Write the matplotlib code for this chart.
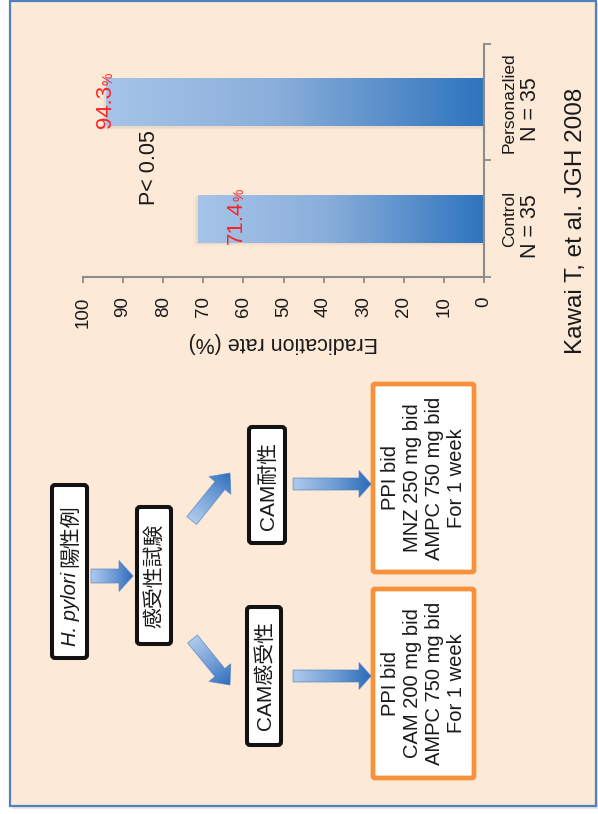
import numpy as np
import matplotlib
matplotlib.use("Agg")
import matplotlib.pyplot as plt
import matplotlib.transforms as mtransforms
from matplotlib.patches import Rectangle, FancyBboxPatch, Polygon
from matplotlib.colors import LinearSegmentedColormap

# ---------------- data ----------------
groups = ["Control", "Personazlied"]
group_n = ["N = 35", "N = 35"]
eradication = [71.4, 94.3]
rate_ticks = [0, 10, 20, 30, 40, 50, 60, 70, 80, 90, 100]
p_text = "P< 0.05"
rate_label = "Eradication rate (%)"
citation = "Kawai T, et al. JGH 2008"

start_latin = "H. pylori"
start_cjk = "陽性例"
test_label = "感受性試験"
resistant_label = "CAM耐性"
susceptible_label = "CAM感受性"
resistant_regimen = ["PPI bid", "MNZ 250 mg bid", "AMPC 750 mg bid", "For 1 week"]
susceptible_regimen = ["PPI bid", "CAM 200 mg bid", "AMPC 750 mg bid", "For 1 week"]

# ---------------- layout / style ----------------
W, H = 598, 814
value_label_x = [61.8, 94.5]      # where each percentage label sits along the rate axis
PEACH = "#FDE9D8"
FRAME = "#4F81BD"
RED = "#FF2323"
INK = "#1A1A1A"
SPINE = "#8C8C8C"
ORANGE = "#F7923A"

plt.rcParams["font.family"] = ["Liberation Sans", "Noto Sans CJK JP", "DejaVu Sans"]

fig = plt.figure(figsize=(W / 100, H / 100), dpi=100)
fig.patch.set_facecolor("white")

# full-figure canvas in pixel units (y downwards)
bg = fig.add_axes([0, 0, 1, 1])
bg.set_xlim(0, W)
bg.set_ylim(H, 0)
bg.axis("off")

bg.add_patch(Rectangle((11.5, 2.5), 586, 806, fc="#E6E6E6", ec="none", zorder=0))
bg.add_patch(Rectangle((9.5, 0.5), 586, 805, fc=PEACH, ec=FRAME, lw=1.6, zorder=1))

bar_cmap = LinearSegmentedColormap.from_list(
    "bar", [(0.0, "#A6C4E8"), (0.45, "#8AAEDB"), (1.0, "#2E74BE")])
arrow_cmap = LinearSegmentedColormap.from_list(
    "arrow", [(0.0, "#AECAEC"), (0.55, "#6E9BD6"), (1.0, "#2C6DBA")])

# ---------------- bar chart ----------------
ax = fig.add_axes([83 / W, 1 - 277 / H, 401 / W, 233 / H])
ax.set_facecolor("none")
ypos = np.arange(len(groups))
bar_h = 0.41
bars = ax.barh(ypos, eradication, height=bar_h, color="none", edgecolor="none")
grad = np.linspace(0, 1, 256)[None, :]
for rect, v in zip(bars, eradication):
    y0 = rect.get_y()
    # soft drop shadow hugging the bar's outer end and lower edge
    for k, a in enumerate([0.05, 0.035, 0.02]):
        grow = 0.35 * (k + 1)
        ax.add_patch(Rectangle((0, y0 - 0.012 * (k + 1)), v + grow, bar_h + 0.006 * (k + 1),
                               fc="#6B5A48", ec="none", alpha=a, zorder=1))
    ax.imshow(grad, extent=[v, 0, y0, y0 + bar_h], cmap=bar_cmap, aspect="auto",
              interpolation="bilinear", zorder=2)

ax.set_xlim(100, 0)
ax.set_ylim(-0.5, 1.5)

for v, lx, y in zip(eradication, value_label_x, ypos):
    t = ax.text(lx, y - bar_h / 2 - 0.015, f"{v}", rotation=90, ha="center", va="bottom",
                color=RED, fontsize=16, zorder=4)
    ax.annotate("%", xy=(1, 1), xycoords=t, ha="right", va="bottom", rotation=90,
                color=RED, fontsize=10, zorder=4)

ax.text(83.3, 0.44, p_text, rotation=90, ha="center", va="center", fontsize=15.5, color=INK)

for side in ("left", "top"):
    ax.spines[side].set_visible(False)
for side in ("bottom", "right"):
    ax.spines[side].set_color(SPINE)
    ax.spines[side].set_linewidth(1.5)

ax.set_xticks(rate_ticks)
ax.set_xticklabels([str(t) for t in rate_ticks])
ax.tick_params(axis="x", length=4, width=1.3, color=SPINE, labelsize=13.5,
               labelrotation=90, pad=10, labelcolor=INK)

ax.yaxis.tick_right()
ax.set_yticks(ypos)
ax.set_yticklabels(groups)
ax.set_yticks([-0.5, 0.5, 1.5], minor=True)
ax.tick_params(axis="y", which="major", length=0, pad=13, labelsize=12.5, labelcolor=INK)
ax.tick_params(axis="y", which="minor", length=5, width=1.3, color=SPINE)
for lbl in ax.get_yticklabels():
    lbl.set_rotation(90)
    lbl.set_va("center")
    lbl.set_ha("left")

trans = mtransforms.blended_transform_factory(ax.transAxes, ax.transData)
for n, y in zip(group_n, ypos):
    ax.text(1.115, y - 0.06, n, transform=trans, rotation=90, ha="center", va="center",
            fontsize=15.5, color=INK)

ax.set_xlabel(rate_label, rotation=180, fontsize=15.5, color=INK)
ax.xaxis.set_label_coords(0.5, -(343 - 277) / 233)
ax.xaxis.label.set_va("center")

bg.text(576, 221, citation, rotation=90, ha="center", va="center", fontsize=17.5, color=INK)

# ---------------- flowchart ----------------
def black_box(x0, y0, x1, y1):
    bg.add_patch(FancyBboxPatch((x0 + 2, y0 + 2), x1 - x0 - 4, y1 - y0 - 4,
                                boxstyle="round,pad=0,rounding_size=3",
                                fc="white", ec="#121212", lw=2.9, zorder=3))


def orange_box(x0, y0, x1, y1):
    bg.add_patch(FancyBboxPatch((x0 + 2, y0 + 2), x1 - x0 - 4, y1 - y0 - 4,
                                boxstyle="round,pad=0,rounding_size=2",
                                fc="white", ec=ORANGE, lw=3.4, zorder=3))


def gradient_arrow(tail, tip, shaft_hw, head_hw, head_len):
    tail = np.asarray(tail, float)
    tip = np.asarray(tip, float)
    d = tip - tail
    L = np.hypot(*d)
    u = d / L
    nrm = np.array([-u[1], u[0]])
    base = tail + u * (L - head_len)
    pts = np.array([tail + nrm * shaft_hw, base + nrm * shaft_hw, base + nrm * head_hw, tip,
                    base - nrm * head_hw, base - nrm * shaft_hw, tail - nrm * shaft_hw])
    poly = Polygon(pts, closed=True, fc="none", ec="#4A7CC0", lw=0.6, alpha=0.7, zorder=4)
    bg.add_patch(poly)
    xmin, ymin = pts.min(axis=0)
    xmax, ymax = pts.max(axis=0)
    X, Y = np.meshgrid(np.linspace(xmin, xmax, 120), np.linspace(ymin, ymax, 120))
    t = np.clip(((X - tail[0]) * u[0] + (Y - tail[1]) * u[1]) / L, 0, 1)
    im = bg.imshow(t, extent=[xmin, xmax, ymax, ymin], origin="upper", cmap=arrow_cmap,
                   vmin=0, vmax=1, aspect="auto", interpolation="bilinear", zorder=3.5)
    im.set_clip_path(poly)


black_box(50, 483, 89, 660)
black_box(135, 505, 173, 646)
black_box(247, 425, 287, 545)
black_box(245, 605, 283, 747)
orange_box(371, 382, 476, 574)
orange_box(371, 587, 476, 780)

gradient_arrow((91, 576), (133, 576), 7, 15.5, 14)
gradient_arrow((191.7, 520.5), (230, 473), 6.3, 14, 16)
gradient_arrow((192.5, 639), (230, 685), 6.3, 14, 16)
gradient_arrow((293, 484), (371, 484), 6, 13.5, 12)
gradient_arrow((293, 676), (371, 676), 6, 13.5, 12)

bg.set_xlim(0, W)
bg.set_ylim(H, 0)

bg.text(71, 609, start_latin, rotation=90, ha="center", va="center", fontsize=14.5,
        style="italic", color=INK, zorder=5)
bg.text(71, 536, start_cjk, rotation=90, ha="center", va="center", fontsize=15,
        color=INK, zorder=5)
bg.text(154, 576, test_label, rotation=90, ha="center", va="center", fontsize=15,
        color=INK, zorder=5)
bg.text(268, 486, resistant_label, rotation=90, ha="center", va="center", fontsize=15,
        color=INK, zorder=5)
bg.text(265, 676, susceptible_label, rotation=90, ha="center", va="center", fontsize=15,
        color=INK, zorder=5)
bg.text(424, 478, "\n".join(resistant_regimen), rotation=90, ha="center", va="center",
        multialignment="center", fontsize=14.5, linespacing=1.2, color=INK, zorder=5)
bg.text(424, 683, "\n".join(susceptible_regimen), rotation=90, ha="center", va="center",
        multialignment="center", fontsize=14.5, linespacing=1.2, color=INK, zorder=5)

fig.savefig("out.png", dpi=100, facecolor="white")
